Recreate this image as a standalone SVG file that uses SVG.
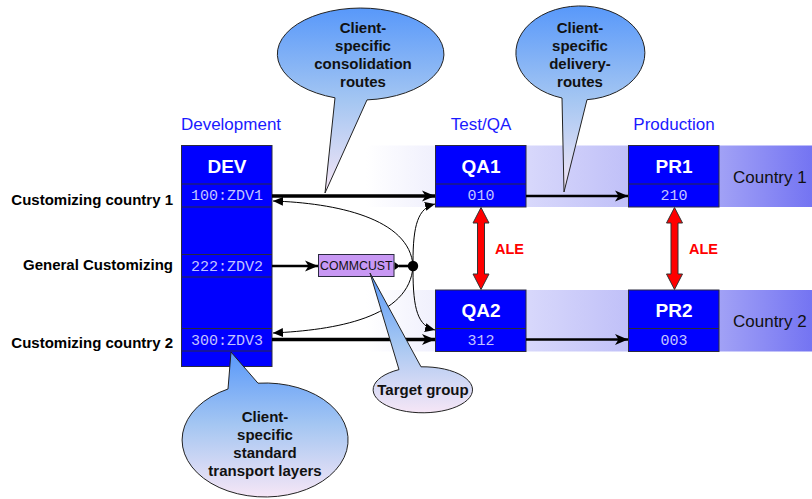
<svg xmlns="http://www.w3.org/2000/svg" width="812" height="499" viewBox="0 0 812 499">
<style>
.box{fill:#0000ff;stroke:#2a2a40;stroke-width:1}
.div{stroke:#2a2a40;stroke-width:1;fill:none}
.title{font-family:"Liberation Sans",Arial,sans-serif;font-weight:bold;font-size:19px;fill:#ffffff;text-anchor:middle}
.mono{font-family:"Liberation Mono","Courier New",monospace;font-size:15px;fill:#c4c4ff;text-anchor:middle}
.head{font-family:"Liberation Sans",Arial,sans-serif;font-size:17px;fill:#1a1aff;text-anchor:middle}
.lbl{font-family:"Liberation Sans",Arial,sans-serif;font-weight:bold;font-size:15px;fill:#000;text-anchor:end}
.ctext{font-family:"Liberation Sans",Arial,sans-serif;font-weight:bold;font-size:15px;fill:#111;text-anchor:middle}
.country{font-family:"Liberation Sans",Arial,sans-serif;font-size:17px;fill:#111}
.ale{font-family:"Liberation Sans",Arial,sans-serif;font-weight:bold;font-size:14.5px;fill:#ff0000}
.thick{stroke:#000;stroke-width:3.3;fill:none}
.mid{stroke:#000;stroke-width:2.6;fill:none}
.thin{stroke:#000;stroke-width:1;fill:none}
.callout{fill:url(#cg);stroke:#222;stroke-width:1}
.alearrow{fill:#ff0000;stroke:#333;stroke-width:1}
</style>
<defs>
<linearGradient id="band" gradientUnits="userSpaceOnUse" x1="366" y1="0" x2="812" y2="0">
<stop offset="0" stop-color="#ffffff"/>
<stop offset="0.155" stop-color="#f0f0fd"/>
<stop offset="0.36" stop-color="#d8d8fb"/>
<stop offset="0.59" stop-color="#c0c0f8"/>
<stop offset="0.79" stop-color="#a2a2f6"/>
<stop offset="1" stop-color="#7474f2"/>
</linearGradient>
<linearGradient id="cg" x1="0" y1="0" x2="0" y2="1">
<stop offset="0" stop-color="#5898fa"/>
<stop offset="0.5" stop-color="#a4c6f2"/>
<stop offset="1" stop-color="#f6e6f6"/>
</linearGradient>
<marker id="ah" markerUnits="userSpaceOnUse" markerWidth="14" markerHeight="12" refX="13" refY="6" orient="auto">
<path d="M0,0.5 L13,6 L0,11.5 L3.5,6 Z" fill="#000"/>
</marker>
<marker id="ahc" markerUnits="userSpaceOnUse" markerWidth="11" markerHeight="10" refX="10" refY="5" orient="auto">
<path d="M0,0.5 L10,5 L0,9.5 Z" fill="#000"/>
</marker>
</defs>

<g id="bands">
<rect x="366" y="145.5" width="446" height="61.5" fill="url(#band)"/>
<rect x="366" y="290" width="446" height="61.5" fill="url(#band)"/>
</g>

<g id="headings">
<text class="head" x="231" y="129.5">Development</text>
<text class="head" x="481" y="129.5">Test/QA</text>
<text class="head" x="674" y="129.5">Production</text>
<text class="country" x="733" y="183">Country 1</text>
<text class="country" x="733" y="327">Country 2</text>
</g>

<g id="labels">
<text class="lbl" x="173" y="204.5">Customizing country 1</text>
<text class="lbl" x="173" y="269.5">General Customizing</text>
<text class="lbl" x="173" y="348">Customizing country 2</text>
</g>

<g id="dev">
<rect class="box" x="181.5" y="145.5" width="90.5" height="221"/>
<line class="div" x1="181.5" y1="184" x2="272" y2="184"/>
<line class="div" x1="181.5" y1="207" x2="272" y2="207"/>
<line class="div" x1="181.5" y1="254.5" x2="272" y2="254.5"/>
<line class="div" x1="181.5" y1="277" x2="272" y2="277"/>
<line class="div" x1="181.5" y1="328.5" x2="272" y2="328.5"/>
<line class="div" x1="181.5" y1="351" x2="272" y2="351"/>
<text class="title" x="227" y="172.5">DEV</text>
<text class="mono" x="227" y="200">100:ZDV1</text>
<text class="mono" x="227" y="270.5">222:ZDV2</text>
<text class="mono" x="227" y="344.5">300:ZDV3</text>
</g>

<g id="qa1">
<rect class="box" x="435.5" y="145.5" width="90.5" height="61.5"/>
<line class="div" x1="435.5" y1="184" x2="526" y2="184"/>
<text class="title" x="481" y="172.5">QA1</text>
<text class="mono" x="481" y="200">010</text>
</g>
<g id="qa2">
<rect class="box" x="435.5" y="290" width="90.5" height="61.5"/>
<line class="div" x1="435.5" y1="328.5" x2="526" y2="328.5"/>
<text class="title" x="481" y="317">QA2</text>
<text class="mono" x="481" y="344.5">312</text>
</g>
<g id="pr1">
<rect class="box" x="628.5" y="145.5" width="90.5" height="61.5"/>
<line class="div" x1="628.5" y1="184" x2="719" y2="184"/>
<text class="title" x="674" y="172.5">PR1</text>
<text class="mono" x="674" y="200">210</text>
</g>
<g id="pr2">
<rect class="box" x="628.5" y="290" width="90.5" height="61.5"/>
<line class="div" x1="628.5" y1="328.5" x2="719" y2="328.5"/>
<text class="title" x="674" y="317">PR2</text>
<text class="mono" x="674" y="344.5">003</text>
</g>

<g id="commcust">
<rect x="318.5" y="254.5" width="75.5" height="22" fill="#c898f4" stroke="#2a2a40" stroke-width="1"/>
<text x="356.3" y="270" font-family="'Liberation Sans',Arial,sans-serif" font-size="12.3px" fill="#111" text-anchor="middle">COMMCUST</text>
</g>

<g id="connectors">
<line class="thick" x1="272" y1="196" x2="435" y2="196" marker-end="url(#ah)"/>
<line class="thick" x1="272" y1="339.5" x2="435" y2="339.5" marker-end="url(#ah)"/>
<line class="mid" x1="526" y1="196" x2="628" y2="196" marker-end="url(#ah)"/>
<line class="mid" x1="526" y1="339.5" x2="628" y2="339.5" marker-end="url(#ah)"/>
<line class="mid" x1="272" y1="266" x2="318" y2="266" marker-end="url(#ah)"/>
<path d="M394.5,262 L400,266 L394.5,270 Z" fill="#000"/>
<line class="mid" x1="399" y1="266" x2="410" y2="266"/>
<path class="thin" d="M413,266 C410,218 335,203 273,201" marker-end="url(#ahc)"/>
<path class="thin" d="M413,266 C410,318 335,330 273,333" marker-end="url(#ahc)"/>
<path class="thin" d="M413,262 C413,225 418,208 435,204" marker-end="url(#ahc)"/>
<path class="thin" d="M413,270 C413,310 418,326 435,330" marker-end="url(#ahc)"/>
<circle cx="413" cy="266" r="5.2" fill="#000"/>
<path class="alearrow" d="M481,207.5 L489,223 L484.5,223 L484.5,274 L489,274 L481,289.5 L473,274 L477.5,274 L477.5,223 L473,223 Z"/>
<path class="alearrow" d="M674.5,207.5 L682.5,223 L678,223 L678,274 L682.5,274 L674.5,289.5 L666.5,274 L671,274 L671,223 L666.5,223 Z"/>
<text class="ale" x="495" y="253.5">ALE</text>
<text class="ale" x="689" y="253.5">ALE</text>
</g>

<g id="callout-consolidation">
<path class="callout" d="M367,99.9 L325,193 L335,97.8 A83.3,46 0 1 1 367,99.9 Z"/>
<text class="ctext" x="363" y="33">Client-</text>
<text class="ctext" x="363" y="51">specific</text>
<text class="ctext" x="363" y="69">consolidation</text>
<text class="ctext" x="363" y="87">routes</text>
</g>

<g id="callout-delivery">
<path class="callout" d="M587,99.7 L564,192 L562,98 A64.5,47 0 1 1 587,99.7 Z"/>
<text class="ctext" x="580" y="33">Client-</text>
<text class="ctext" x="580" y="51">specific</text>
<text class="ctext" x="580" y="69">delivery-</text>
<text class="ctext" x="580" y="87">routes</text>
</g>

<g id="callout-target">
<path class="callout" d="M399,369.6 L370,273 L421,366.8 A49.7,23 0 1 1 399,369.6 Z"/>
<text class="ctext" x="423" y="395">Target group</text>
</g>

<g id="callout-layers">
<path class="callout" d="M228,389 L231,352 L258,383.2 A83,57 0 1 1 228,389 Z"/>
<text class="ctext" x="265" y="421.5">Client-</text>
<text class="ctext" x="265" y="439.5">specific</text>
<text class="ctext" x="265" y="457.5">standard</text>
<text class="ctext" x="265" y="475.5">transport layers</text>
</g>
</svg>
